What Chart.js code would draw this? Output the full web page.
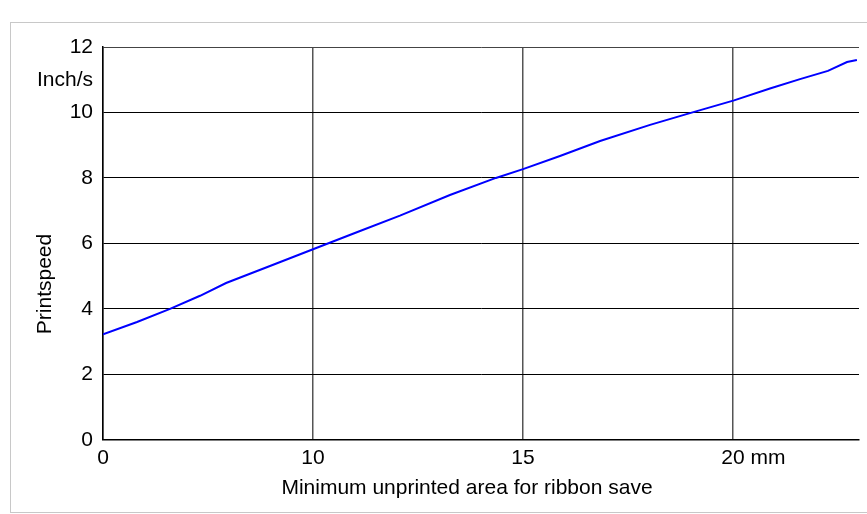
<!DOCTYPE html>
<html lang="en">
<head>
    <meta charset="UTF-8">
    <title>Printspeed vs ribbon save</title>
    <script src="https://cdn.jsdelivr.net/npm/chart.js"></script>
    <style>
        html, body { margin: 0; padding: 0; background: #fff; overflow: hidden; }
        .frame {
            position: absolute; left: 10px; top: 22px;
            width: 900px; height: 491px;
            border: 1px solid #c8c8c8; box-sizing: border-box;
        }
        .chart-container { position: absolute; left: 0; top: 0; width: 867px; height: 514px; }
    </style>
</head>
<body>
    <div class="frame"></div>
    <div class="chart-container">
        <canvas id="speedChart"></canvas>
    </div>
    <script>
        // x positions are in grid steps: 0 -> "0", 1 -> "10", 2 -> "15", 3 -> "20 mm"
        const xTickPos = [0, 1, 2, 3];
        const xTickLabels = ['0', '10', '15', '20'];
        const xUnit = 'mm';
        const yTickPos = [0, 2, 4, 6, 8, 10, 11, 12];
        const yUnit = 'Inch/s';

        const areaPos = [0, 0.162, 0.319, 0.462, 0.586, 0.795, 1.0, 1.224, 1.414, 1.652, 1.871,
                         2.0, 2.176, 2.367, 2.605, 2.795, 3.005, 3.176, 3.319, 3.452, 3.543, 3.59];
        const printSpeed = [3.22, 3.6, 4.0, 4.4, 4.79, 5.31, 5.82, 6.38, 6.85, 7.48, 8.0,
                            8.27, 8.67, 9.13, 9.62, 9.98, 10.37, 10.73, 11.02, 11.27, 11.54, 11.6];

        const xTitle = 'Minimum unprinted area for ribbon save';
        const yTitle = 'Printspeed';

        const FONT = '"Liberation Sans", Arial, sans-serif';

        // axis titles + unit drawn by hand so they sit where the original has them
        const textPlugin = {
            id: 'axisText',
            afterDraw(chart) {
                const ctx = chart.ctx;
                const xs = chart.scales.x;
                ctx.save();
                ctx.fillStyle = '#000';
                ctx.font = '21px ' + FONT;
                ctx.textAlign = 'center';
                ctx.textBaseline = 'middle';
                ctx.fillText(xTitle, 467, 488);

                const x20 = xs.getPixelForValue(3);
                ctx.textAlign = 'left';
                ctx.textBaseline = 'top';
                const w = ctx.measureText(xTickLabels[3] + ' ').width;
                ctx.fillText(xUnit, x20 - ctx.measureText(xTickLabels[3]).width / 2 + w, chart.chartArea.bottom + 8);

                ctx.translate(45, 284);
                ctx.rotate(-Math.PI / 2);
                ctx.textAlign = 'center';
                ctx.textBaseline = 'middle';
                ctx.fillText(yTitle, 0, 0);
                ctx.restore();
            }
        };

        document.addEventListener('DOMContentLoaded', function() {
            const ctx = document.getElementById('speedChart').getContext('2d');
            Chart.defaults.font.family = FONT;
            Chart.defaults.font.size = 21;
            Chart.defaults.color = '#000';

            new Chart(ctx, {
                type: 'line',
                data: {
                    datasets: [{
                        data: areaPos.map((x, i) => ({ x: x, y: printSpeed[i] })),
                        borderColor: '#0000ff',
                        borderWidth: 2,
                        pointRadius: 0,
                        tension: 0,
                        fill: false
                    }]
                },
                plugins: [textPlugin],
                options: {
                    responsive: true,
                    maintainAspectRatio: false,
                    animation: false,
                    layout: { padding: { left: 27, right: 8, top: 47, bottom: 37 } },
                    plugins: { legend: { display: false }, tooltip: { enabled: false } },
                    scales: {
                        x: {
                            type: 'linear',
                            min: 0,
                            max: 3.6,
                            afterBuildTicks: axis => { axis.ticks = xTickPos.map(v => ({ value: v })); },
                            ticks: {
                                padding: 6,
                                maxRotation: 0,
                                callback: (v) => xTickLabels[xTickPos.indexOf(v)]
                            },
                            grid: { color: '#555', lineWidth: 1.5, drawTicks: false },
                            border: { display: true, color: '#000', width: 1.5 }
                        },
                        y: {
                            min: 0,
                            max: 12,
                            afterBuildTicks: axis => { axis.ticks = yTickPos.map(v => ({ value: v })); },
                            ticks: {
                                padding: 10,
                                callback: (v) => v === 11 ? yUnit : v
                            },
                            grid: {
                                color: c => (c.tick && c.tick.value === 11) ? 'rgba(0,0,0,0)' : (c.tick && c.tick.value === 12 ? '#444' : '#000'),
                                lineWidth: 1,
                                drawTicks: false
                            },
                            border: { display: true, color: '#000', width: 1.5 }
                        }
                    }
                }
            });
        });
    </script>
</body>
</html>
